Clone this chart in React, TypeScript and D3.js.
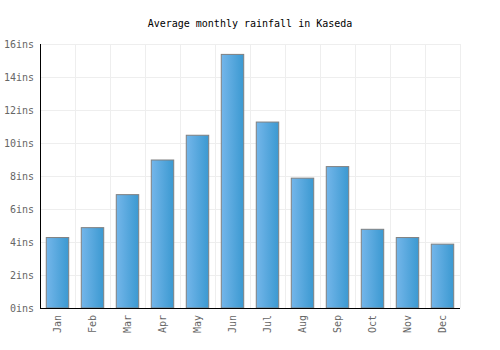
import React from "react";
import * as d3 from "d3";

const months = ["Jan","Feb","Mar","Apr","May","Jun","Jul","Aug","Sep","Oct","Nov","Dec"];
const rainfall = [4.3, 4.9, 6.9, 9.0, 10.5, 15.4, 11.3, 7.9, 8.6, 4.8, 4.3, 3.9];
const yTicks = [0, 2, 4, 6, 8, 10, 12, 14, 16];
const title = "Average monthly rainfall in Kaseda";

export default function App() {
  const W = 500, H = 350;
  const left = 40, right = 460, top = 44, bottom = 308;
  const x = d3.scaleBand<string>().domain(months).range([left, right]).paddingInner(0.33).paddingOuter(0.165);
  const y = d3.scaleLinear().domain([0, 16]).range([bottom, top]);
  const step = (right - left) / months.length;
  const font = "'DejaVu Sans Mono', monospace";
  return (
    <svg width={W} height={H} style={{ position: "absolute", left: 0, top: 0 }}>
      <defs>
        <linearGradient id="barGrad" x1="0" x2="1" y1="0" y2="0">
          <stop offset="0%" stopColor="#74b6ea" />
          <stop offset="100%" stopColor="#3b99d1" />
        </linearGradient>
      </defs>
      <rect width={W} height={H} fill="#fff" />
      <text x={250} y={27} textAnchor="middle" fontFamily={font} fontSize={10} fill="#000">{title}</text>
      {yTicks.map(t => (
        <line key={"gy" + t} x1={left} x2={right} y1={Math.round(y(t)) + 0.5} y2={Math.round(y(t)) + 0.5} stroke="#eeeeee" strokeWidth={1} />
      ))}
      {months.map((m, i) => (
        <line key={"gx" + m} x1={Math.round(left + step * (i + 1)) + 0.5} x2={Math.round(left + step * (i + 1)) + 0.5} y1={top} y2={bottom} stroke="#eeeeee" strokeWidth={1} />
      ))}
      {months.map((m, i) => (
        <rect key={"b" + m} x={(x(m) as number) + 0.5} y={y(rainfall[i]) + 0.5} width={x.bandwidth() - 1} height={bottom - y(rainfall[i]) - 0.5}
          fill="url(#barGrad)" stroke="#808080" strokeWidth={1} />
      ))}
      <line x1={left + 0.5} x2={left + 0.5} y1={top} y2={bottom} stroke="#000" strokeWidth={1} />
      <line x1={left} x2={right} y1={bottom + 0.5} y2={bottom + 0.5} stroke="#000" strokeWidth={1} />
      {yTicks.map(t => (
        <text key={"ty" + t} x={34} y={y(t)} dy="0.35em" textAnchor="end" fontFamily={font} fontSize={10} fill="#666">{t}ins</text>
      ))}
      {months.map(m => {
        const cx = (x(m) as number) + x.bandwidth() / 2;
        return (
          <text key={"tx" + m} transform={`translate(${cx + 3.5},315) rotate(-90)`} textAnchor="end" fontFamily={font} fontSize={10} fill="#666">{m}</text>
        );
      })}
    </svg>
  );
}
